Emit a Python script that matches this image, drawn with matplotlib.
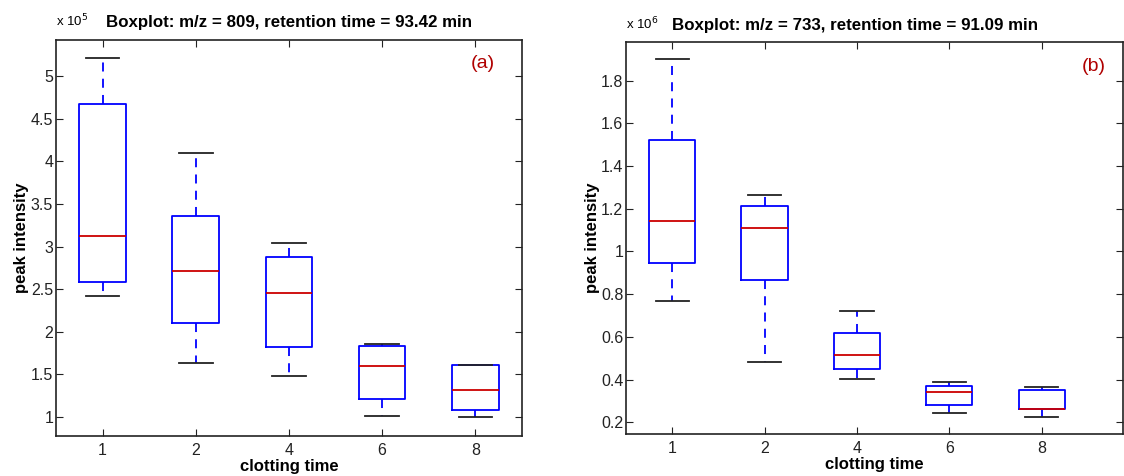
import matplotlib
matplotlib.use("Agg")
import matplotlib.pyplot as plt

# clotting times (x categories)
clotting_times = ["1", "2", "4", "6", "8"]

# panel (a): m/z = 809, values in units of 1e5
a_whislo = [2.42, 1.63, 1.48, 1.01, 1.00]
a_q1 = [2.58, 2.10, 1.82, 1.21, 1.08]
a_med = [3.13, 2.71, 2.45, 1.60, 1.32]
a_q3 = [4.67, 3.36, 2.88, 1.83, 1.61]
a_whishi = [5.21, 4.10, 3.04, 1.86, 1.61]

# panel (b): m/z = 733, values in units of 1e6
b_whislo = [0.77, 0.48, 0.405, 0.245, 0.225]
b_q1 = [0.946, 0.866, 0.45, 0.28, 0.26]
b_med = [1.143, 1.11, 0.513, 0.34, 0.26]
b_q3 = [1.52, 1.215, 0.62, 0.37, 0.35]
b_whishi = [1.903, 1.265, 0.72, 0.388, 0.366]

plt.rcParams["font.family"] = ["Liberation Sans Narrow", "Liberation Sans", "DejaVu Sans"]


def make_stats(lo, q1, med, q3, hi):
    stats = []
    for i in range(len(lo)):
        stats.append({"whislo": lo[i], "q1": q1[i], "med": med[i],
                      "q3": q3[i], "whishi": hi[i], "fliers": []})
    return stats


def draw_panel(ax, stats, exp, title, title_x, tag, tag_x, ylim, xlim, yticks):
    ax.bxp(stats, positions=range(1, len(stats) + 1), widths=0.5,
           capwidths=0.36, showfliers=False,
           boxprops=dict(color="#0000ff", linewidth=1.3),
           whiskerprops=dict(color="#0000ff", linewidth=1.3, linestyle=(0, (5, 4))),
           capprops=dict(color="#222222", linewidth=1.3),
           medianprops=dict(color="#cc0000", linewidth=1.3))
    ax.set_xticks(range(1, len(stats) + 1))
    ax.set_xticklabels(clotting_times)
    ax.set_xlim(*xlim)
    ax.set_ylim(*ylim)
    ax.set_yticks(yticks)
    ax.set_yticklabels([("%g" % t) for t in yticks])
    ax.tick_params(direction="in", top=True, right=True, length=5,
                   labelsize=11.5, colors="#222222", pad=5)
    ax.tick_params(axis="y", pad=2)
    for s in ax.spines.values():
        s.set_linewidth(1.2)
        s.set_color("#222222")
    ax.set_title(title, x=title_x, fontsize=12.2, fontweight="bold", pad=9)
    ax.set_xlabel("clotting time", fontsize=12, fontweight="bold", labelpad=1)
    ax.set_ylabel("peak intensity", fontsize=12, fontweight="bold", labelpad=1)
    ax.text(0.0, 1.025, r"x 10$^{%d}$" % exp, transform=ax.transAxes,
            fontsize=9.5, ha="left", va="bottom")
    ax.text(tag_x, 0.96, tag, transform=ax.transAxes,
            fontsize=14, color="#b00000", ha="right", va="top")


fig = plt.figure(figsize=(11.24, 4.76), dpi=100)
ax1 = fig.add_axes([0.0498, 0.0847, 0.4146, 0.832])
ax2 = fig.add_axes([0.557, 0.0882, 0.442, 0.823])

draw_panel(ax1, make_stats(a_whislo, a_q1, a_med, a_q3, a_whishi), 5,
           "Boxplot: m/z = 809, retention time = 93.42 min", 0.5, "(a)", 0.942,
           (0.78, 5.43), (0.5, 5.5), [1, 1.5, 2, 2.5, 3, 3.5, 4, 4.5, 5])
draw_panel(ax2, make_stats(b_whislo, b_q1, b_med, b_q3, b_whishi), 6,
           "Boxplot: m/z = 733, retention time = 91.09 min", 0.461, "(b)", 0.965,
           (0.145, 1.98), (0.5, 5.88), [0.2, 0.4, 0.6, 0.8, 1, 1.2, 1.4, 1.6, 1.8])

fig.savefig("out.png", dpi=100)
